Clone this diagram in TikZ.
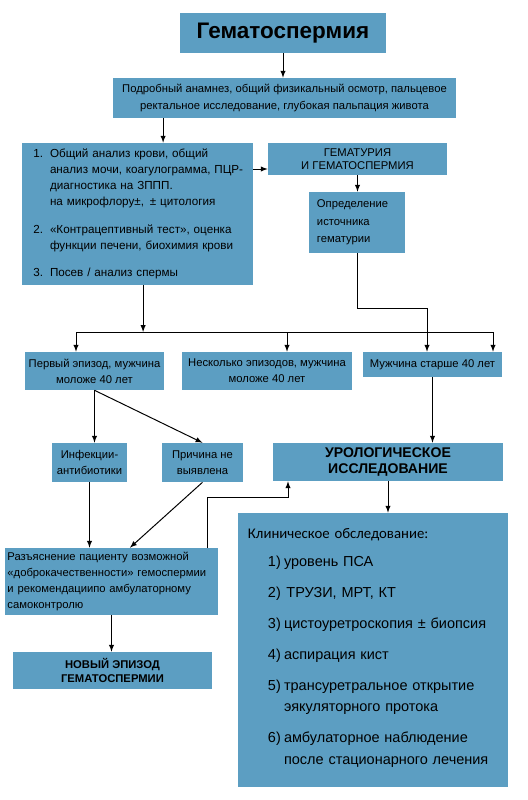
\documentclass[tikz,border=0pt]{standalone}
\usepackage{fontspec}
\setmainfont{Liberation Sans}
\newfontfamily\clinfont{Carlito}
\usetikzlibrary{arrows,positioning,calc}
\definecolor{boxblue}{RGB}{92,158,194}

\begin{document}
\begin{tikzpicture}[
    x=0.025cm, y=-0.025cm,
    box/.style={rectangle, fill=boxblue, inner sep=2pt, align=center, font=\fontsize{8}{11.5}\selectfont},
    leftbox/.style={box, align=left},
    headbox/.style={box, font=\fontsize{16}{18}\selectfont\bfseries},
    capsbox/.style={box, font=\fontsize{10}{12}\selectfont\bfseries},
    arrow/.style={->, >=latex, line width=0.7pt},
    line/.style={line width=0.7pt}
]
\useasboundingbox (0,0) rectangle (527,800);

% Top of the chart
\node[headbox, minimum width=5.15cm, minimum height=1cm] (title) at (283,33) {Гематоспермия};
\node[box, minimum width=8.575cm, minimum height=1cm, font=\fontsize{8}{12.5}\selectfont] (anam) at (284.5,98) {Подробный анамнез, общий физикальный осмотр, пальцевое\\ректальное исследование, глубокая пальпация живота};

\node[leftbox, minimum width=5.775cm, minimum height=3.55cm, text width=5.2cm, font=\fontsize{8.3}{11.5}\selectfont] (tests) at (137.5,214) {%
\begin{tabular}{@{}l@{\hspace{0.17cm}}l@{}}
1. & Общий анализ крови, общий\\
   & анализ мочи, коагулограмма, ПЦР-\\
   & диагностика на ЗППП.\\
   & на микрофлору±,\enspace± цитология\\[8pt]
2. & «Контрацептивный тест», оценка\\
   & функции печени, биохимия крови\\[8pt]
3. & Посев / анализ спермы
\end{tabular}};

\node[box, minimum width=4.475cm, minimum height=0.8cm, font=\fontsize{8}{9.5}\selectfont] (hemat) at (357.5,159) {ГЕМАТУРИЯ\\И ГЕМАТОСПЕРМИЯ};
\node[leftbox, minimum width=2.4cm, minimum height=1.525cm, text width=2cm, font=\fontsize{8}{12.4}\selectfont] (opred) at (357,222.5) {Определение\\источника\\гематурии};

% Groups of patients
\node[box, minimum width=3.475cm, minimum height=0.95cm] (first) at (94.5,371) {Первый эпизод, мужчина\\моложе 40 лет};
\node[box, minimum width=4.25cm, minimum height=0.95cm] (several) at (267,371) {Несколько эпизодов, мужчина\\моложе 40 лет};
\node[box, minimum width=3.475cm, minimum height=0.625cm] (older) at (432.5,364.5) {Мужчина старше 40 лет};

\node[box, minimum width=1.875cm, minimum height=0.975cm] (infect) at (89.5,462.5) {Инфекции-\\антибиотики};
\node[box, minimum width=2.025cm, minimum height=0.975cm] (cause) at (202.5,462.5) {Причина не\\выявлена};
\node[capsbox, minimum width=5.75cm, minimum height=0.95cm] (uro) at (388,462) {УРОЛОГИЧЕСКОЕ\\ИССЛЕДОВАНИЕ};

\node[leftbox, minimum width=5.325cm, minimum height=1.675cm, text width=5.2cm] (expl) at (111.5,581.5) {Разъяснение пациенту возможной\\«доброкачественности» гемоспермии\\и рекомендациипо амбулаторному\\самоконтролю};
\node[box, minimum width=4.975cm, minimum height=0.925cm, font=\fontsize{8}{9.5}\selectfont\bfseries] (newep) at (112.5,670.5) {НОВЫЙ ЭПИЗОД\\ГЕМАТОСПЕРМИИ};

\node[leftbox, minimum width=6.75cm, minimum height=6.85cm, text width=6.25cm, font=\fontsize{10.3}{15.6}\selectfont] (clin) at (373,650) {%
{\clinfont\fontsize{10.5}{12}\selectfont Клиническое обследование:}\\[6pt]
\begin{tabular}{@{\hspace{0.5cm}}l@{\hspace{0.08cm}}l@{}}
1) & уровень ПСА\\[6.4pt]
2) & \,ТРУЗИ, МРТ, КТ\\[6.4pt]
3) & цистоуретроскопия ± биопсия\\[6.4pt]
4) & аспирация кист\\[6.4pt]
5) & трансуретральное открытие\\
   & эякуляторного протока\\[6.4pt]
6) & амбулаторное наблюдение\\
   & после стационарного лечения
\end{tabular}};

% Helper points for the branches
\coordinate (busL) at (76,332);
\coordinate (busR) at (493,332);
\coordinate (bend) at (427,308);
\coordinate (jog) at (288,497);

% Arrows
\draw[arrow] (title.south) -- (title.south |- anam.north);
\draw[arrow] ([xshift=0.64cm]tests.north |- anam.south) -- ([xshift=0.64cm]tests.north);
\draw[arrow] ([yshift=-0.25cm]hemat.west -| tests.east) -- ([yshift=-0.25cm]hemat.west);
\draw[arrow] (hemat.south) -- (hemat.south |- opred.north);

\draw[line] (busL) -- (busR);
\draw[arrow] ([xshift=0.14cm]tests.south) -- ([xshift=0.14cm]tests.south |- busL);
\draw[arrow] (busL) -- (busL |- first.north);
\draw[arrow] ([xshift=0.5cm]several.north |- busL) -- ([xshift=0.5cm]several.north);
\draw[arrow] (busR) -- (busR |- older.north);
\draw[arrow] (opred.south) |- (bend) -- (bend |- older.north);

\draw[arrow] (first.south) -- (first.south |- infect.north);
\draw[arrow] (first.south) -- (cause.north);
\draw[arrow] (older.south) -- (older.south |- uro.north);

\draw[arrow] (infect.south) -- (infect.south |- expl.north);
\draw[arrow] (cause.south) -- ([xshift=0.46cm]expl.north);
\draw[arrow] ([xshift=2.39cm]expl.north) |- (jog) -- (jog |- uro.south);
\draw[arrow] (uro.south) -- (uro.south |- clin.north);
\draw[arrow] (expl.south) -- (expl.south |- newep.north);

\end{tikzpicture}
\end{document}
